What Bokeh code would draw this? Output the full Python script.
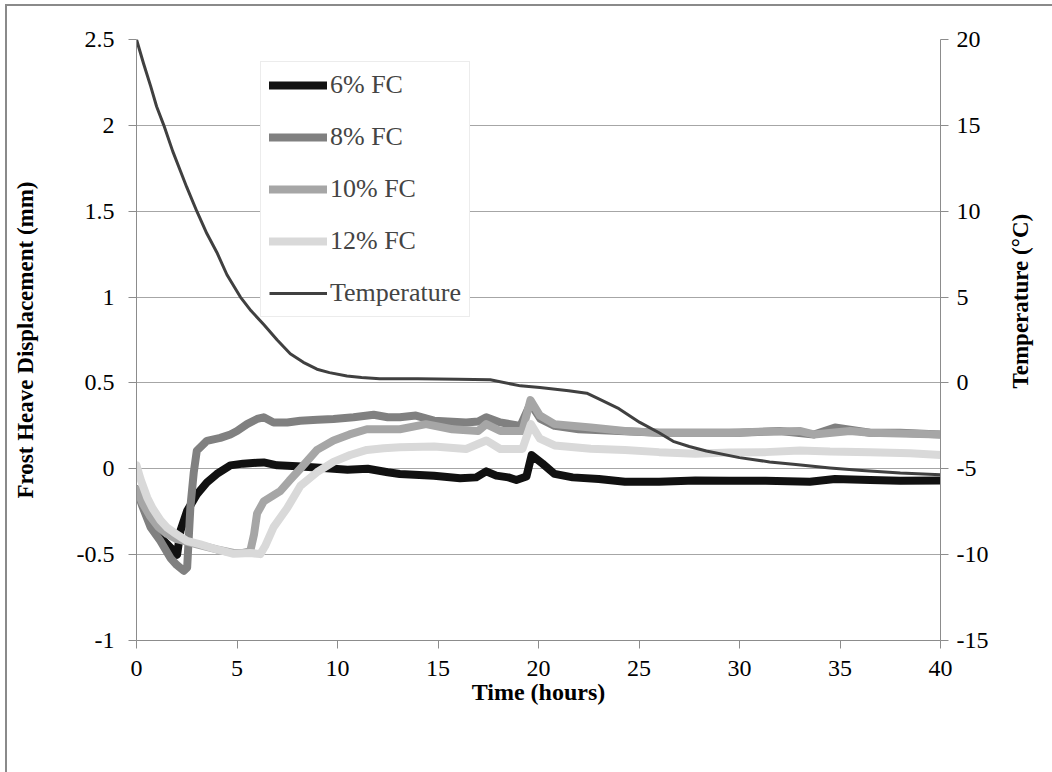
import math
from bokeh.plotting import figure
from bokeh.layouts import row
from bokeh.models import (Range1d, LinearAxis, FixedTicker, CustomJSTickFormatter,
                          Legend, LegendItem)
from bokeh.core.properties import value
from bokeh.embed import file_html
from bokeh.resources import INLINE

# ---------------- data ----------------
t6 = [0, 0.3, 0.7, 1.0, 1.36, 1.7, 2.02, 2.19, 2.52, 3.0, 3.5, 4.0, 4.67, 5.3, 6.0, 6.33,
      7.0, 8.0, 9.3, 10.5, 11.5, 12.5, 13.1, 14.8, 16.1, 16.9, 17.4, 17.9, 18.5, 18.9, 19.4,
      19.66, 20.2, 20.8, 21.7, 23.0, 24.3, 26.0, 27.8, 29.5, 31.3, 33.5, 34.75, 36.5, 38.0, 40.0]
v6 = [-0.12, -0.2, -0.30, -0.36, -0.42, -0.46, -0.50, -0.36, -0.245, -0.15, -0.08, -0.03, 0.02,
      0.03, 0.035, 0.037, 0.02, 0.015, 0.005, -0.005, 0.0, -0.02, -0.03, -0.04, -0.055, -0.05,
      -0.015, -0.04, -0.05, -0.065, -0.045, 0.08, 0.03, -0.03, -0.05, -0.06, -0.075, -0.075,
      -0.068, -0.07, -0.07, -0.075, -0.06, -0.065, -0.07, -0.068]

t8 = [0, 0.3, 0.7, 1.19, 1.69, 2.0, 2.35, 2.52, 2.68, 2.85, 3.0, 3.5, 4.17, 4.67, 5.0, 5.5,
      6.0, 6.33, 6.82, 7.5, 8.15, 9.0, 9.8, 10.8, 11.8, 12.5, 13.1, 13.9, 14.8, 16.4, 17.0,
      17.4, 18.1, 19.1, 19.6, 20.1, 20.8, 22.0, 24.0, 26.0, 28.0, 30.0, 32.0, 33.7, 34.75,
      36.5, 38.0, 40.0]
v8 = [-0.12, -0.22, -0.34, -0.42, -0.52, -0.56, -0.594, -0.575, -0.225, -0.02, 0.105, 0.163,
      0.18, 0.2, 0.22, 0.26, 0.29, 0.30, 0.27, 0.27, 0.28, 0.285, 0.29, 0.30, 0.315, 0.30,
      0.30, 0.31, 0.28, 0.27, 0.275, 0.30, 0.27, 0.25, 0.38, 0.29, 0.25, 0.23, 0.22, 0.21,
      0.21, 0.21, 0.22, 0.20, 0.24, 0.21, 0.21, 0.20]

t10 = [0, 0.3, 0.7, 1.1, 1.52, 2.0, 2.35, 3.0, 3.5, 4.0, 4.83, 5.3, 5.66, 5.85, 6.0, 6.33,
       7.15, 7.6, 8.15, 8.98, 9.8, 10.6, 11.46, 12.3, 13.1, 14.4, 15.7, 17.0, 17.4, 18.1,
       19.2, 19.6, 20.07, 20.8, 22.6, 24.3, 26.0, 28.0, 29.5, 31.0, 33.0, 33.7, 35.5, 36.5,
       38.0, 40.0]
v10 = [-0.12, -0.2, -0.28, -0.34, -0.38, -0.41, -0.42, -0.44, -0.455, -0.47, -0.49, -0.49,
       -0.48, -0.38, -0.26, -0.19, -0.13, -0.07, 0.0, 0.11, 0.165, 0.2, 0.23, 0.23, 0.23,
       0.26, 0.23, 0.22, 0.26, 0.22, 0.22, 0.40, 0.31, 0.26, 0.24, 0.22, 0.21, 0.21, 0.21,
       0.215, 0.22, 0.20, 0.22, 0.21, 0.205, 0.20]

t12 = [0, 0.2, 0.53, 0.8, 1.19, 1.5, 1.85, 2.5, 3.18, 4.0, 4.83, 5.66, 6.16, 6.4, 6.82,
       7.49, 8.15, 8.98, 9.8, 10.63, 11.46, 12.3, 13.1, 14.8, 16.4, 17.4, 18.1, 19.2, 19.62,
       20.07, 20.8, 22.6, 24.3, 26.0, 27.8, 29.5, 31.3, 33.0, 34.5, 36.5, 38.5, 40.0]
v12 = [0.02, -0.06, -0.167, -0.23, -0.30, -0.34, -0.37, -0.42, -0.44, -0.47, -0.495, -0.49,
       -0.497, -0.45, -0.34, -0.23, -0.10, -0.02, 0.04, 0.08, 0.11, 0.12, 0.125, 0.13, 0.115,
       0.165, 0.115, 0.115, 0.26, 0.175, 0.136, 0.117, 0.11, 0.097, 0.088, 0.095, 0.097,
       0.107, 0.10, 0.097, 0.09, 0.08]

t_temp = [0, 0.35, 0.7, 1.0, 1.36, 1.8, 2.2, 2.5, 3.0, 3.5, 4.0, 4.5, 5.17, 5.7, 6.33, 7.0,
          7.65, 8.3, 8.98, 9.6, 10.47, 11.2, 12.1, 14.0, 16.0, 17.6, 19.1, 20.07, 21.5, 22.4,
          23.0, 24.0, 25.04, 26.0, 26.7, 27.5, 28.35, 30.0, 31.5, 32.8, 34.5, 36.1, 38.0, 40.0]
v_temp = [20, 18.6, 17.3, 16.1, 15, 13.5, 12.3, 11.4, 10, 8.7, 7.6, 6.3, 5, 4.2, 3.4, 2.5,
          1.7, 1.2, 0.8, 0.6, 0.4, 0.32, 0.25, 0.25, 0.22, 0.18, -0.17, -0.27, -0.45, -0.6,
          -0.93, -1.5, -2.3, -2.9, -3.4, -3.7, -3.96, -4.35, -4.6, -4.75, -4.95, -5.1,
          -5.25, -5.35]

x_ticks = [0, 5, 10, 15, 20, 25, 30, 35, 40]
left_ticks = [-1, -0.5, 0, 0.5, 1, 1.5, 2, 2.5]
right_ticks = [-15, -10, -5, 0, 5, 10, 15, 20]

series_names = ["6% FC", "8% FC", "10% FC", "12% FC"]
series_colors = ["#111111", "#808080", "#a6a6a6", "#d9d9d9"]
temp_name = "Temperature"
temp_color = "#404040"
x_title = "Time (hours)"
left_title = "Frost Heave Displacement (mm)"
right_title = "Temperature (°C)"

FONT = "Liberation Serif"
GRID = "#a6a6a6"
AXIS = "#8c8c8c"

# ---------------- main figure ----------------
p = figure(width=984, height=766, x_range=Range1d(0, 40), y_range=Range1d(-1, 2.5),
           output_backend="svg", toolbar_location=None,
           min_border_left=129, min_border_right=50, min_border_top=33, min_border_bottom=132)
p.outline_line_color = None
p.background_fill_color = "white"
p.border_fill_color = "white"
p.extra_y_ranges = {"temp": Range1d(-15, 20)}

fmt = CustomJSTickFormatter(code="return tick.toString();")

def style_axis(ax, ticks, standoff, title_standoff, title_size="22px"):
    ax.ticker = FixedTicker(ticks=ticks)
    ax.formatter = fmt
    ax.axis_line_color = AXIS
    ax.major_tick_line_color = AXIS
    ax.major_tick_in = 0
    ax.major_tick_out = 8
    ax.minor_tick_line_color = None
    ax.major_label_text_font = FONT
    ax.major_label_text_font_size = "24px"
    ax.major_label_text_color = "black"
    ax.major_label_standoff = standoff
    ax.axis_label_text_font = FONT
    ax.axis_label_text_font_size = title_size
    ax.axis_label_text_font_style = "bold"
    ax.axis_label_text_color = "black"
    ax.axis_label_standoff = title_standoff

style_axis(p.xaxis[0], x_ticks, 12, 0, "24px")
p.xaxis[0].axis_label = x_title
style_axis(p.yaxis[0], left_ticks, 14, 36, "23px")
p.yaxis[0].axis_label = left_title

raxis = LinearAxis(y_range_name="temp")
style_axis(raxis, right_ticks, 8, 0)
p.add_layout(raxis, "right")

p.xgrid.visible = False
p.ygrid.grid_line_color = GRID
p.ygrid.ticker = FixedTicker(ticks=left_ticks)

items = []
for tt, vv, name, col in zip([t6, t8, t10, t12], [v6, v8, v10, v12], series_names, series_colors):
    r = p.line(tt, vv, line_color=col, line_width=8, line_cap="round", line_join="round")
    items.append(LegendItem(label=name, renderers=[r]))

rt = p.line(t_temp, v_temp, y_range_name="temp", line_color=temp_color, line_width=3,
            line_join="round")
items.append(LegendItem(label=temp_name, renderers=[rt]))

legend = Legend(items=items, location=(124, 323), margin=0, padding=8,
                spacing=22, glyph_width=58, glyph_height=26, label_height=26,
                label_standoff=3, label_text_font=FONT, label_text_font_size="26px",
                border_line_color="#d9d9d9", border_line_width=1,
                background_fill_color="white", background_fill_alpha=1.0)
p.add_layout(legend, "center")

# ---------------- narrow strip holding the right-hand axis title ----------------
p2 = figure(width=61, height=766, x_range=Range1d(0, 61), y_range=Range1d(0, 766),
            output_backend="svg", toolbar_location=None, min_border=0)
p2.axis.visible = False
p2.grid.visible = False
p2.outline_line_color = None
p2.border_fill_color = "white"
p2.text(x=[29], y=[432.5], text=[right_title], angle=math.pi / 2,
        text_align="center", text_baseline="middle", text_font=value(FONT),
        text_font_size="23px", text_font_style="bold", text_color="black")

layout = row(p, p2, spacing=0)
layout.styles = {"border-left": "2px solid #8a8a8a", "border-top": "2px solid #8a8a8a",
                 "margin-left": "5px", "margin-top": "4px"}

open("out.html", "w").write(file_html(layout, INLINE))
